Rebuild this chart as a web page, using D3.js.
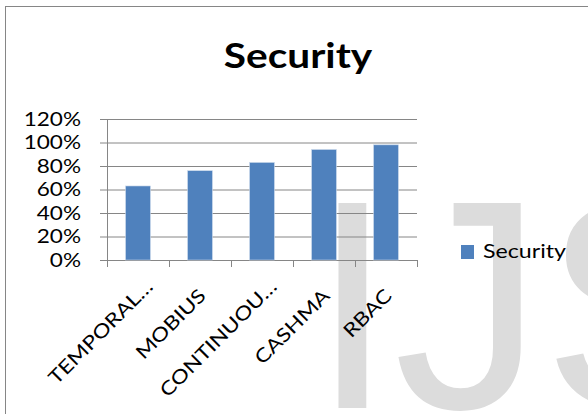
<!DOCTYPE html>
<html><head><meta charset="utf-8">
<script src="https://cdn.jsdelivr.net/npm/d3@7"></script>
<style>
html,body{margin:0;padding:0;background:#fff;}
svg{display:block;}
</style></head>
<body>
<script>
const categories = ["TEMPORAL…", "MOBIUS", "CONTINUOU…", "CASHMA", "RBAC"];
const seriesName = "Security";
const values = [0.63, 0.76, 0.83, 0.94, 0.98];
const yTicks = [0, 0.2, 0.4, 0.6, 0.8, 1.0, 1.2];
const yTickLabels = ["0%", "20%", "40%", "60%", "80%", "100%", "120%"];
const chartTitle = "Security";
const watermark = "IJS";

const W = 588, H = 414;
const SX = 1.2;
const barColor = "#4F81BD";
const gridColor = "#868686";
const font = "Lato, 'Open Sans', sans-serif";

const svg = d3.select("body").append("svg").attr("width", W).attr("height", H);

// watermark behind chart
svg.append("text").attr("x", 311).attr("y", 408)
  .attr("font-family", "'Liberation Sans', Arial, sans-serif")
  .attr("font-size", 298).attr("fill", "#dcdcdc").text(watermark);

// outer chart border
svg.append("rect").attr("x", 5.5).attr("y", 6.5).attr("width", 700).attr("height", 600)
  .attr("fill", "none").attr("stroke", gridColor).attr("stroke-width", 1);

const plot = {left: 107, right: 417, top: 119, bottom: 260};

const x = d3.scaleBand().domain(categories).range([plot.left, plot.right])
  .paddingInner(0.6).paddingOuter(0.3);
const y = d3.scaleLinear().domain([0, 1.2]).range([plot.bottom, plot.top]);

// Title
svg.append("g").attr("transform", `translate(${(plot.left + plot.right) / 2 + 36},68) scale(1.16,1)`)
  .append("text").attr("text-anchor", "middle").attr("font-family", font)
  .attr("font-weight", "bold").attr("font-size", 35).attr("fill", "#000").text(chartTitle);

// Y axis with gridlines
const yAxis = d3.axisLeft(y).tickValues(yTicks)
  .tickFormat((d, i) => yTickLabels[i]).tickSize(plot.right - plot.left + 7).tickPadding(19);
const gy = svg.append("g").attr("transform", `translate(${plot.right},0)`).call(yAxis);
gy.select(".domain").remove();
gy.selectAll(".tick line").attr("stroke", gridColor).attr("stroke-width", 1);
gy.selectAll(".tick text").each(function() {
  const t = d3.select(this);
  const tx = +t.attr("x");
  const txt = t.text();
  const parent = d3.select(this.parentNode);
  t.remove();
  parent.append("g").attr("transform", `translate(${tx},6) scale(${SX + 0.02},1)`)
    .append("text").attr("text-anchor", "end").attr("font-family", font)
    .attr("font-size", 18.5).attr("fill", "#000").text(txt);
});

// vertical axis line
svg.append("line").attr("x1", plot.left + 0.5).attr("x2", plot.left + 0.5)
  .attr("y1", plot.top).attr("y2", plot.bottom + 7).attr("stroke", gridColor);

// category tick marks at band boundaries
const half = (x.step() - x.bandwidth()) / 2;
const bounds = categories.map(c => x(c) - half).concat([x(categories[categories.length - 1]) + x.bandwidth() + half]);
svg.append("g").selectAll("line").data(bounds).join("line")
  .attr("x1", d => Math.round(d) + 0.5).attr("x2", d => Math.round(d) + 0.5)
  .attr("y1", plot.bottom).attr("y2", plot.bottom + 7).attr("stroke", gridColor);

// Bars
svg.append("g").selectAll("rect").data(values).join("rect")
  .attr("x", (d, i) => x(categories[i]))
  .attr("y", d => y(d))
  .attr("width", x.bandwidth())
  .attr("height", d => y(0) - y(d))
  .attr("fill", barColor).attr("stroke", "#c9d7ea").attr("stroke-width", 0.6);

// Category labels
svg.append("g").selectAll("g").data(categories).join("g")
  .attr("transform", d => {
    const cx = x(d) + x.bandwidth() / 2 + 7;
    return `translate(${cx},297) rotate(-45) translate(${d.endsWith("…") ? 13 : 0},0) scale(${SX},1)`;
  })
  .append("text").attr("text-anchor", "end").attr("font-family", font)
  .attr("font-size", 19).attr("fill", "#000").text(d => d);

// Legend
svg.append("rect").attr("x", 461).attr("y", 245).attr("width", 13).attr("height", 14).attr("fill", barColor);
svg.append("g").attr("transform", "translate(483,258) scale(1.22,1)")
  .append("text").attr("font-family", font).attr("font-size", 19).attr("fill", "#000").text(seriesName);
</script>
</body></html>
